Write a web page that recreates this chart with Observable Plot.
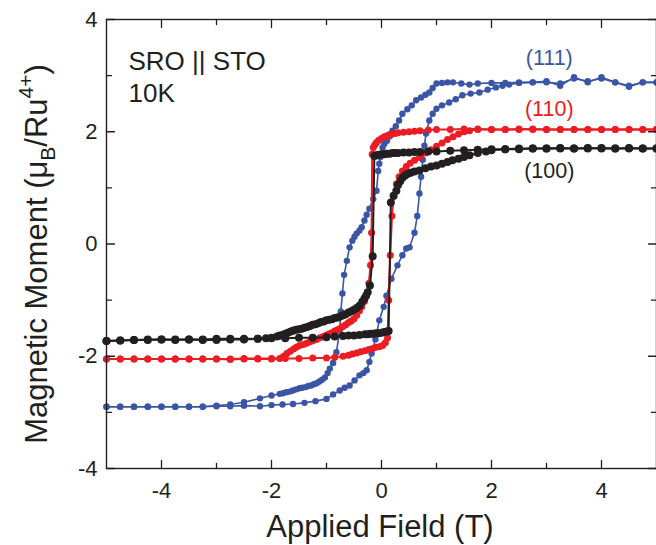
<!DOCTYPE html>
<html>
<head>
<meta charset="utf-8">
<script src="https://cdn.jsdelivr.net/npm/d3@7"></script>
<script src="https://cdn.jsdelivr.net/npm/@observablehq/plot@0.6"></script>
<style>
  html, body { margin: 0; padding: 0; background: #fff; }
  #chart svg { display: block; }
</style>
</head>
<body>
<div id="chart"></div>
<script>
// ---- tick values ----
const xMajorTicks = [-4, -2, 0, 2, 4];
const xMinorTicks = [-3, -1, 1, 3];
const yMajorTicks = [-4, -2, 0, 2, 4];
const yMinorTicks = [-3, -1, 1, 3];

// ---- series labels ----
const seriesNames = ["(111)", "(110)", "(100)"];
const sampleLabels = ["SRO || STO", "10K"];

// ---- (111): field (T), moment (muB/Ru4+) ----
const loop111Down = [
  [5,2.88],[4.75,2.88],[4.5,2.8],[4.25,2.88],[4,2.97],[3.75,2.88],[3.5,2.97],[3.25,2.82],[3,2.9],
  [2.75,2.88],[2.5,2.88],[2.25,2.87],[2,2.87],[1.75,2.86],[1.6,2.84],[1.45,2.86],[1.3,2.88],[1.2,2.88],
  [1.1,2.87],[1.0,2.86],[0.93,2.78],[0.87,2.7],[0.8,2.66],[0.72,2.61],[0.63,2.56],[0.55,2.47],[0.47,2.4],
  [0.38,2.32],[0.32,2.2],[0.26,2.1],[0.2,2.02],[0.15,1.92],[0.1,1.84],[0.05,1.78],[0.02,1.72],[-0.02,1.55],
  [-0.04,1.43],[-0.06,1.3],[-0.09,0.95],[-0.15,0.8],[-0.22,0.63],[-0.27,0.52],[-0.31,0.42],[-0.36,0.3],
  [-0.4,0.24],[-0.45,0.19],[-0.49,0.13],[-0.53,0.06],[-0.58,-0.06],[-0.63,-0.3],[-0.68,-0.55],[-0.71,-0.88],
  [-0.74,-1.2],[-0.76,-1.54],[-0.82,-1.93],[-0.88,-2.12],[-0.94,-2.22],[-0.98,-2.3],[-1.03,-2.38],
  [-1.08,-2.42],[-1.13,-2.45],[-1.18,-2.48],[-1.23,-2.5],[-1.28,-2.52],[-1.33,-2.53],[-1.38,-2.55],
  [-1.44,-2.56],[-1.49,-2.57],[-1.55,-2.59],[-1.61,-2.61],[-1.67,-2.63],[-1.73,-2.64],[-1.79,-2.66],
  [-1.85,-2.67],[-2.0,-2.7],[-2.21,-2.75],[-2.5,-2.82],[-2.75,-2.86],[-3,-2.88],[-3.25,-2.9],[-3.5,-2.9],
  [-3.75,-2.9],[-4,-2.9],[-4.25,-2.9],[-4.5,-2.9],[-4.75,-2.9],[-5,-2.9]
];
const loop111Up = [
  [-5,-2.9],[-4.75,-2.9],[-4.5,-2.9],[-4.25,-2.9],[-4,-2.9],[-3.75,-2.9],[-3.5,-2.9],[-3.25,-2.9],
  [-3,-2.89],[-2.75,-2.89],[-2.5,-2.88],[-2.21,-2.89],[-2,-2.87],[-1.8,-2.86],[-1.61,-2.85],[-1.4,-2.83],
  [-1.2,-2.8],[-1.0,-2.76],[-0.88,-2.68],[-0.76,-2.61],[-0.67,-2.56],[-0.58,-2.52],[-0.49,-2.43],
  [-0.4,-2.34],[-0.33,-2.3],[-0.27,-2.25],[-0.22,-2.1],[-0.18,-1.95],[-0.11,-1.7],[-0.04,-1.36],
  [0.04,-1.12],[0.09,-0.92],[0.18,-0.62],[0.29,-0.38],[0.38,-0.2],[0.45,-0.08],[0.51,-0.06],[0.6,0.2],
  [0.65,0.5],[0.69,0.9],[0.72,1.2],[0.75,1.5],[0.78,1.75],[0.81,1.97],[0.87,2.2],[0.93,2.32],[1.0,2.41],
  [1.1,2.47],[1.23,2.52],[1.35,2.58],[1.47,2.65],[1.62,2.68],[1.78,2.7],[1.93,2.75],[2.08,2.79],
  [2.2,2.82],[2.32,2.84],[2.5,2.87],[2.75,2.88],[3,2.88],[3.25,2.86],[3.5,2.95],[3.75,2.9],[4,2.95],
  [4.25,2.88],[4.5,2.82],[4.75,2.88],[5,2.88]
];

// ---- (110) ----
const loop110Down = [
  [5,2.04],[4.75,2.04],[4.5,2.04],[4.25,2.04],[4,2.04],[3.75,2.04],[3.5,2.04],[3.25,2.04],[3,2.04],
  [2.75,2.05],[2.5,2.04],[2.25,2.04],[2,2.04],[1.75,2.05],[1.5,2.05],[1.25,2.04],[1.0,2.04],[0.85,2.03],
  [0.7,2.02],[0.6,2.01],[0.5,2.0],[0.4,1.99],[0.3,1.98],[0.25,1.97],[0.2,1.96],[0.15,1.95],[0.1,1.93],
  [0.05,1.91],[0,1.88],[-0.05,1.85],[-0.09,1.81],[-0.12,1.77],[-0.15,1.72],[-0.17,1.6],[-0.18,0.2],
  [-0.2,-0.38],[-0.23,-0.7],[-0.27,-0.9],[-0.31,-1.02],[-0.36,-1.12],[-0.4,-1.19],[-0.45,-1.27],
  [-0.5,-1.33],[-0.55,-1.37],[-0.6,-1.4],[-0.65,-1.44],[-0.7,-1.47],[-0.76,-1.51],[-0.8,-1.53],
  [-0.85,-1.55],[-0.9,-1.58],[-0.95,-1.6],[-1.0,-1.62],[-1.06,-1.65],[-1.12,-1.67],[-1.18,-1.7],
  [-1.24,-1.72],[-1.3,-1.74],[-1.36,-1.77],[-1.42,-1.79],[-1.49,-1.81],[-1.55,-1.84],[-1.6,-1.87],
  [-1.66,-1.91],[-1.72,-1.95],[-1.78,-2.0],[-1.85,-2.04],[-2,-2.05],[-2.25,-2.05],[-2.5,-2.05],
  [-2.75,-2.06],[-3,-2.05],[-3.25,-2.05],[-3.5,-2.05],[-3.75,-2.05],[-4,-2.05],[-4.25,-2.05],
  [-4.5,-2.05],[-4.75,-2.05],[-5,-2.05]
];
const loop110Up = [
  [-5,-2.05],[-4.75,-2.05],[-4.5,-2.05],[-4.25,-2.05],[-4,-2.05],[-3.75,-2.05],[-3.5,-2.05],
  [-3.25,-2.05],[-3,-2.05],[-2.75,-2.05],[-2.5,-2.04],[-2.25,-2.04],[-2,-2.04],[-1.75,-2.04],
  [-1.5,-2.04],[-1.25,-2.03],[-1,-2.03],[-0.85,-2.02],[-0.7,-2.0],[-0.6,-1.98],[-0.53,-1.96],
  [-0.45,-1.94],[-0.38,-1.92],[-0.3,-1.9],[-0.23,-1.88],[-0.16,-1.86],[-0.1,-1.84],[-0.04,-1.83],
  [0.02,-1.81],[0.07,-1.76],[0.11,-1.67],[0.13,-1.0],[0.16,-0.2],[0.19,0.5],[0.22,0.85],[0.27,1.07],
  [0.32,1.2],[0.38,1.3],[0.45,1.38],[0.52,1.44],[0.6,1.49],[0.69,1.54],[0.8,1.62],[0.9,1.68],[1.0,1.74],
  [1.1,1.8],[1.2,1.86],[1.3,1.91],[1.4,1.96],[1.5,2.0],[1.6,2.02],[1.75,2.04],[2.0,2.04],[2.25,2.04],
  [2.5,2.05],[2.75,2.04],[3,2.04],[3.25,2.04],[3.5,2.04],[3.75,2.04],[4,2.04],[4.25,2.04],[4.5,2.04],
  [4.75,2.04],[5,2.04]
];

// ---- (100) ----
const loop100Down = [
  [5,1.7],[4.75,1.7],[4.5,1.71],[4.25,1.7],[4,1.7],[3.75,1.71],[3.5,1.7],[3.25,1.7],[3,1.7],[2.75,1.7],
  [2.5,1.69],[2.25,1.69],[2,1.69],[1.75,1.68],[1.5,1.67],[1.25,1.66],[1.0,1.65],[0.85,1.65],[0.7,1.64],
  [0.6,1.64],[0.5,1.63],[0.4,1.63],[0.3,1.62],[0.25,1.62],[0.2,1.62],[0.15,1.61],[0.1,1.61],[0.05,1.6],
  [0,1.6],[-0.05,1.59],[-0.1,1.58],[-0.13,1.57],[-0.16,-0.22],[-0.21,-0.74],[-0.25,-0.86],[-0.28,-0.92],
  [-0.31,-0.97],[-0.35,-1.03],[-0.4,-1.1],[-0.45,-1.14],[-0.5,-1.17],[-0.55,-1.2],[-0.6,-1.22],
  [-0.65,-1.25],[-0.7,-1.27],[-0.75,-1.29],[-0.8,-1.31],[-0.85,-1.32],[-0.9,-1.34],[-0.95,-1.35],
  [-1.0,-1.36],[-1.05,-1.38],[-1.1,-1.39],[-1.15,-1.41],[-1.2,-1.43],[-1.25,-1.44],[-1.3,-1.46],
  [-1.35,-1.48],[-1.4,-1.49],[-1.45,-1.51],[-1.5,-1.52],[-1.55,-1.53],[-1.6,-1.54],[-1.65,-1.56],
  [-1.7,-1.58],[-1.75,-1.6],[-1.8,-1.62],[-1.85,-1.63],[-1.9,-1.65],[-2.0,-1.67],[-2.1,-1.68],
  [-2.25,-1.69],[-2.5,-1.7],[-2.75,-1.7],[-3,-1.71],[-3.25,-1.71],[-3.5,-1.7],[-3.75,-1.71],[-4,-1.7],
  [-4.25,-1.71],[-4.5,-1.71],[-4.75,-1.72],[-5,-1.73]
];
const loop100Up = [
  [-5,-1.73],[-4.75,-1.72],[-4.5,-1.71],[-4.25,-1.7],[-4,-1.7],[-3.75,-1.7],[-3.5,-1.7],[-3.25,-1.7],
  [-3,-1.69],[-2.75,-1.69],[-2.5,-1.69],[-2.25,-1.69],[-2,-1.68],[-1.75,-1.68],[-1.5,-1.67],
  [-1.25,-1.67],[-1.0,-1.66],[-0.85,-1.65],[-0.7,-1.64],[-0.6,-1.63],[-0.5,-1.63],[-0.4,-1.62],
  [-0.3,-1.61],[-0.25,-1.61],[-0.2,-1.6],[-0.15,-1.6],[-0.1,-1.59],[-0.05,-1.59],[0,-1.58],[0.05,-1.57],
  [0.1,-1.56],[0.13,-1.55],[0.17,0.74],[0.22,0.86],[0.27,0.95],[0.3,1.05],[0.34,1.12],[0.38,1.18],
  [0.43,1.22],[0.48,1.25],[0.53,1.27],[0.6,1.29],[0.69,1.31],[0.8,1.35],[0.9,1.38],[1.0,1.4],[1.1,1.43],
  [1.2,1.46],[1.29,1.49],[1.4,1.52],[1.5,1.55],[1.6,1.58],[1.75,1.62],[1.9,1.65],[2.0,1.67],[2.25,1.69],
  [2.5,1.7],[2.75,1.7],[3,1.7],[3.25,1.71],[3.5,1.7],[3.75,1.7],[4,1.71],[4.25,1.7],[4.5,1.7],
  [4.75,1.7],[5,1.7]
];

const ink = "#231f20";
const blue = "#3a55a5";
const red = "#ec1c24";
const black = "#231f20";

const tickLine = {draw(context, l) { context.moveTo(0, 0); context.lineTo(0, -l); }};
const fmt = d => String(d);

function loopMarks(branches, color, r, sw) {
  const marks = [];
  for (const b of branches) {
    marks.push(Plot.line(b, {x: d => d[0], y: d => d[1], stroke: color, strokeWidth: sw}));
  }
  for (const b of branches) {
    marks.push(Plot.dot(b, {x: d => d[0], y: d => d[1], r, fill: color, stroke: "none"}));
  }
  return marks;
}

function ticks(values, axis, len) {
  const opts = {stroke: ink, strokeWidth: 1.3, shape: tickLine, anchor: "start", length: len};
  if (axis === "x") {
    return [
      Plot.vector(values, {...opts, x: d => d, frameAnchor: "bottom", rotate: 0}),
      Plot.vector(values, {...opts, x: d => d, frameAnchor: "top", rotate: 180})
    ];
  }
  return [
    Plot.vector(values, {...opts, y: d => d, frameAnchor: "left", rotate: 90}),
    Plot.vector(values, {...opts, y: d => d, frameAnchor: "right", rotate: -90})
  ];
}

const chart = Plot.plot({
  width: 656,
  height: 545,
  marginLeft: 106,
  marginRight: 0,
  marginTop: 19,
  marginBottom: 77,
  style: {fontFamily: "'Liberation Sans', Arial, Helvetica, sans-serif", background: "#fff", color: ink},
  x: {domain: [-5, 5]},
  y: {domain: [-4, 4]},
  marks: [
    ...loopMarks([loop111Down, loop111Up], blue, 3.2, 1.6),
    ...loopMarks([loop110Down, loop110Up], red, 3.5, 2),
    ...loopMarks([loop100Down, loop100Up], black, 4, 2),
    Plot.frame({stroke: ink, strokeWidth: 1.4}),
    ...ticks(xMajorTicks, "x", 8),
    ...ticks(xMinorTicks, "x", 5),
    ...ticks(yMajorTicks, "y", 8),
    ...ticks(yMinorTicks, "y", 5),
    Plot.axisX({ticks: xMajorTicks, tickSize: 0, tickPadding: 14, tickFormat: fmt, fontSize: 22, label: null, fill: ink}),
    Plot.axisY({ticks: yMajorTicks, tickSize: 0, tickPadding: 9, tickFormat: fmt, fontSize: 22, label: null, fill: ink}),
    Plot.text([sampleLabels[0]], {x: -4.6, y: 3.24, text: d => d, textAnchor: "start", fontSize: 26, fill: ink}),
    Plot.text([sampleLabels[1]], {x: -4.6, y: 2.67, text: d => d, textAnchor: "start", fontSize: 26, fill: ink}),
    Plot.text([seriesNames[0]], {x: 3.05, y: 3.32, text: d => d, fontSize: 21.5, fill: blue}),
    Plot.text([seriesNames[1]], {x: 3.05, y: 2.4, text: d => d, fontSize: 21.5, fill: red}),
    Plot.text([seriesNames[2]], {x: 3.05, y: 1.29, text: d => d, fontSize: 21.5, fill: black})
  ]
});

document.getElementById("chart").appendChild(chart);

// axis titles with sub/superscripts
const svg = d3.select(chart);
svg.append("text")
  .attr("x", 380).attr("y", 537)
  .attr("text-anchor", "middle")
  .attr("font-size", 31)
  .attr("fill", ink)
  .text("Applied Field (T)");

const yt = svg.append("text")
  .attr("transform", "translate(47,254) rotate(-90)")
  .attr("text-anchor", "middle")
  .attr("font-size", 31)
  .attr("fill", ink);
yt.append("tspan").text("Magnetic Moment (μ");
yt.append("tspan").attr("font-size", 21).attr("dy", 8).text("B");
yt.append("tspan").attr("dy", -8).text("/Ru");
yt.append("tspan").attr("font-size", 21).attr("dy", -14).text("4+");
yt.append("tspan").attr("dy", 14).text(")");
</script>
</body>
</html>
